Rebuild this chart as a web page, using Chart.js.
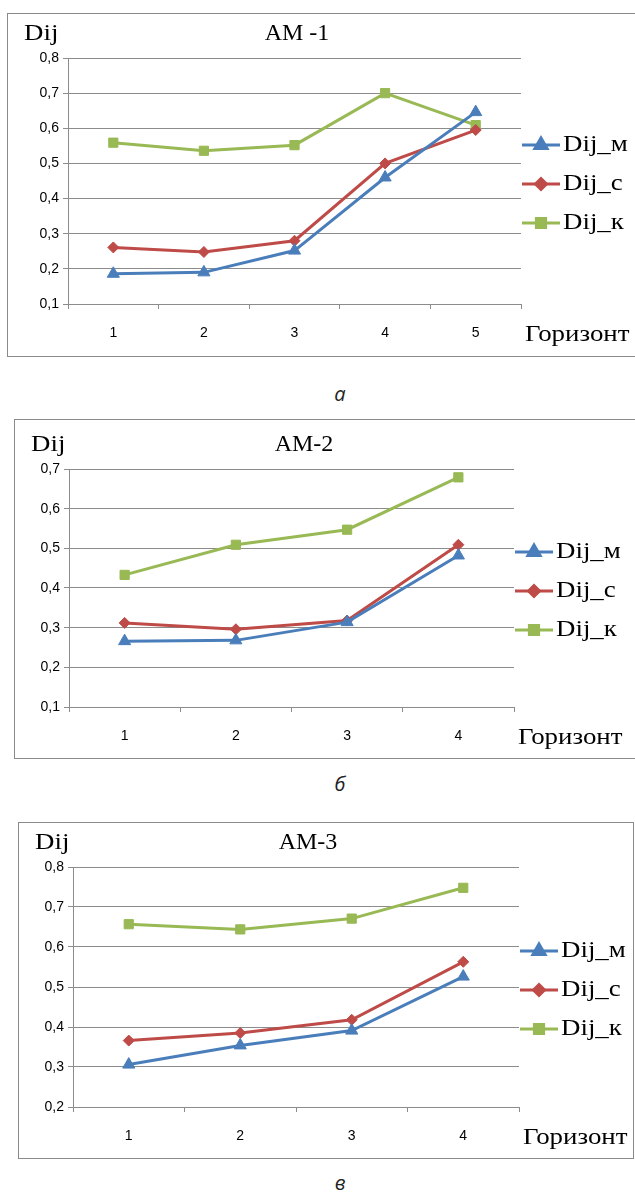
<!DOCTYPE html>
<html>
<head>
<meta charset="utf-8">
<script src="https://cdn.jsdelivr.net/npm/chart.js@4"></script>
<style>
  body { margin: 0; width: 635px; height: 1193px; overflow: hidden; background: #fff; position: relative; }
  .frame { position: absolute; box-sizing: border-box; border: 1px solid #8a8a8a; }
  canvas { position: absolute; }
  .cap { position: absolute; font-family: "Open Sans", sans-serif; font-style: italic; font-size: 20px; color: #222; transform: translate(-50%, -50%); }
</style>
</head>
<body>

<div class="frame" style="left:7px;top:13px;width:640px;height:344px"></div>
<canvas id="am1" width="628" height="342" style="left:8px;top:14px"></canvas>
<div class="cap" style="left:340px;top:393px">а</div>

<div class="frame" style="left:14px;top:419px;width:640px;height:340px"></div>
<canvas id="am2" width="620" height="338" style="left:15px;top:420px"></canvas>
<div class="cap" style="left:340px;top:783px">б</div>

<div class="frame" style="left:18px;top:822px;width:616px;height:337px"></div>
<canvas id="am3" width="614" height="335" style="left:19px;top:823px"></canvas>
<div class="cap" style="left:340px;top:1182px">в</div>

<script>
const seriesNames = ["Dij_м", "Dij_с", "Dij_к"];

// АМ-1
const am1Labels = ["1", "2", "3", "4", "5"];
const am1M = [0.186, 0.19, 0.252, 0.46, 0.646];
const am1C = [0.261, 0.248, 0.28, 0.50, 0.595];
const am1K = [0.559, 0.536, 0.552, 0.70, 0.609];

// АМ-2
const am2Labels = ["1", "2", "3", "4"];
const am2M = [0.266, 0.268, 0.314, 0.482];
const am2C = [0.312, 0.296, 0.318, 0.509];
const am2K = [0.433, 0.509, 0.547, 0.679];

// АМ-3
const am3Labels = ["1", "2", "3", "4"];
const am3M = [0.306, 0.354, 0.391, 0.526];
const am3C = [0.366, 0.385, 0.418, 0.563];
const am3K = [0.657, 0.644, 0.671, 0.748];

const colors = ["#4A7EBB", "#BE4B48", "#98B954"];
const markers = ["triangle", "rectRot", "rect"];
const markerSize = [7, 5.5, 6.5];
const gridColor = "#8c8c8c";
const serif = "'Liberation Serif', 'Times New Roman', serif";
const sans = "'Liberation Sans', Arial, sans-serif";

// the scanned figure is a bit wider than normal Times
function wideText(ctx, text, x, y) {
    ctx.save();
    ctx.translate(x, y);
    ctx.scale(1.12, 1);
    ctx.fillText(text, 0, 0);
    ctx.restore();
}

const extras = {
    id: "extras",
    afterDraw(chart, args, opts) {
        const ctx = chart.ctx;
        const area = chart.chartArea;
        ctx.save();
        ctx.fillStyle = "#000";
        ctx.textBaseline = "middle";
        ctx.font = "24px " + serif;
        ctx.textAlign = "left";
        wideText(ctx, "Dij", 16, area.top - 24);
        ctx.textAlign = "center";
        ctx.fillText(opts.title, 289, area.top - 24);
        ctx.textAlign = "left";
        wideText(ctx, "Горизонт", area.right + 4, area.bottom + 31);

        // legend: line with marker in the middle
        const cy = (area.top + area.bottom) / 2 + 3;
        chart.data.datasets.forEach((ds, i) => {
            const y = cy + (i - 1) * 39;
            const x0 = area.right + 1;
            ctx.strokeStyle = ds.borderColor;
            ctx.fillStyle = ds.borderColor;
            ctx.lineWidth = 3;
            ctx.beginPath();
            ctx.moveTo(x0, y);
            ctx.lineTo(x0 + 38, y);
            ctx.stroke();
            Chart.helpers.drawPoint(ctx, {
                pointStyle: ds.pointStyle, radius: ds.pointRadius, rotation: 0, borderWidth: 1
            }, x0 + 19, y);
            ctx.fillStyle = "#000";
            ctx.font = "24px " + serif;
            wideText(ctx, ds.label, x0 + 41, y);
        });
        ctx.restore();
    }
};

function makeChart(id, labels, series, yMin, yMax, title, plot) {
    const canvas = document.getElementById(id);
    const datasets = series.map((data, i) => ({
        label: seriesNames[i],
        data: data,
        borderColor: colors[i],
        backgroundColor: colors[i],
        borderWidth: 3,
        pointStyle: markers[i],
        pointRadius: markerSize[i],
        pointHoverRadius: markerSize[i],
        pointBorderWidth: 1,
        tension: 0
    }));
    return new Chart(canvas, {
        type: "line",
        data: { labels: labels, datasets: datasets },
        options: {
            responsive: false,
            animation: false,
            devicePixelRatio: 1,
            layout: { padding: { top: plot.top, right: canvas.width - plot.right, left: 0, bottom: 0 } },
            plugins: {
                legend: { display: false },
                tooltip: { enabled: false },
                extras: { title: title }
            },
            scales: {
                x: {
                    offset: true,
                    grid: { offset: true, drawOnChartArea: false, color: gridColor, tickLength: 5 },
                    border: { color: gridColor },
                    ticks: { color: "#000", padding: 16, font: { family: sans, size: 14 } },
                    afterFit: (s) => { s.height = canvas.height - plot.bottom; }
                },
                y: {
                    min: yMin,
                    max: yMax,
                    grid: { color: gridColor, tickLength: 5 },
                    border: { color: gridColor },
                    ticks: {
                        stepSize: 0.1,
                        color: "#000",
                        padding: 4,
                        font: { family: sans, size: 14 },
                        callback: (v) => (Math.round(v * 10) / 10).toFixed(1).replace(".", ",")
                    },
                    afterFit: (s) => { s.width = plot.left; }
                }
            }
        },
        plugins: [extras]
    });
}

function drawAll() {
    makeChart("am1", am1Labels, [am1M, am1C, am1K], 0.1, 0.8, "АМ -1", { left: 60, top: 44, right: 513, bottom: 290 });
    makeChart("am2", am2Labels, [am2M, am2C, am2K], 0.1, 0.7, "АМ-2", { left: 54, top: 49, right: 499, bottom: 287 });
    makeChart("am3", am3Labels, [am3M, am3C, am3K], 0.2, 0.8, "АМ-3", { left: 54, top: 44, right: 500, bottom: 284 });
}

// canvas text needs the fonts loaded first
Promise.all([
    document.fonts.load("24px 'Liberation Serif'", "DijАМГоризонт_мск"),
    document.fonts.load("14px 'Liberation Sans'", "0,12345")
]).then(drawAll, drawAll);
</script>
</body>
</html>
